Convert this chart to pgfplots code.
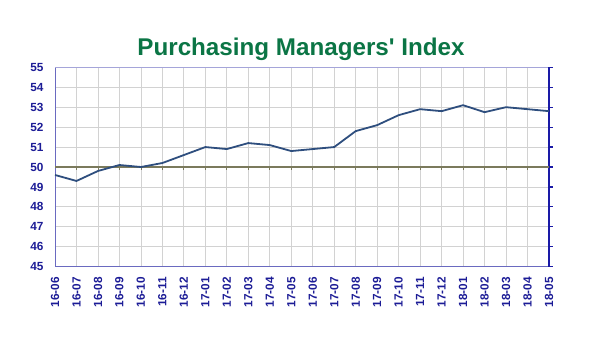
\documentclass[border=0pt]{standalone}
\usepackage{fontspec}
\setmainfont{Liberation Sans}
\usepackage{pgfplots}
\pgfplotsset{compat=1.18}
\definecolor{titlegreen}{HTML}{0B7545}
\definecolor{lblblue}{HTML}{1C1C96}
\definecolor{axblue}{HTML}{1A1AA6}
\definecolor{thinblue}{HTML}{6A6AC0}
\definecolor{pmiline}{HTML}{2E4E7E}
\definecolor{fifty}{HTML}{7B7A5C}
\definecolor{gridgray}{HTML}{D2D2D2}
\begin{document}
\begin{tikzpicture}[x=1pt,y=1pt]
\useasboundingbox (0,0) rectangle (600,360);
\node[font=\fontsize{24.2}{26}\selectfont\bfseries, text=titlegreen] at (301,311) {Purchasing Managers\textquotesingle{} Index};
\begin{axis}[
  at={(55pt,93.3pt)}, anchor=south west,
  width=494pt, height=199.4pt, scale only axis,
  xmin=0, xmax=23, ymin=45, ymax=55,
  ytick={45,46,...,55},
  xtick={0,...,23},
  xticklabels={16-06,16-07,16-08,16-09,16-10,16-11,16-12,17-01,17-02,17-03,17-04,17-05,17-06,17-07,17-08,17-09,17-10,17-11,17-12,18-01,18-02,18-03,18-04,18-05},
  x tick label style={rotate=90, anchor=east, font=\fontsize{11.8}{12}\selectfont\bfseries, text=lblblue},
  y tick label style={font=\fontsize{11.8}{12}\selectfont\bfseries, text=lblblue},
  /pgf/number format/assume math mode=true,
  xtick style={draw=none}, ytick style={draw=none},
  major tick length=0pt,
  xticklabel shift=7pt,
  yticklabel shift=8pt,
  grid=major,
  grid style={gridgray, line width=0.8pt},
  axis line style={draw=none},
  clip=false,
]
% frame lines
\addplot[thinblue, line width=0.8pt, mark=none] coordinates {(0,45) (0,55)};
\addplot[thinblue!60, line width=0.6pt, mark=none] coordinates {(0,55) (23,55)};
\addplot[thinblue, line width=0.8pt, mark=none] coordinates {(0,45) (23,45)};
\addplot[axblue, line width=1.5pt, mark=none] coordinates {(23,45) (23,55)};
% right ticks
\addplot[draw=none, mark=none,
  error bars/x dir=plus, error bars/x fixed=0.18,
  error bars/error mark=none,
  error bars/error bar style={axblue, line width=1.2pt}]
  coordinates {(23,45) (23,46) (23,47) (23,48) (23,49) (23,50) (23,51) (23,52) (23,53) (23,54) (23,55)};
% 50 line
\addplot[fifty, line width=1.2pt, mark=none] coordinates {(0,50) (23,50)};
\addplot[draw=none, mark=none,
  error bars/y dir=minus, error bars/y fixed=0.15,
  error bars/error mark=none,
  error bars/error bar style={fifty, line width=0.8pt}]
  coordinates {(1,50) (2,50) (3,50) (4,50) (5,50) (6,50) (7,50) (8,50) (9,50) (10,50) (11,50) (12,50) (13,50) (14,50) (15,50) (16,50) (17,50) (18,50) (19,50) (20,50) (21,50) (22,50)};
% PMI
\addplot[pmiline, line width=1.8pt, line join=round, mark=none] coordinates {
(0,49.6) (1,49.3) (2,49.8) (3,50.1) (4,50.0) (5,50.2) (6,50.6) (7,51.0)
(8,50.9) (9,51.2) (10,51.1) (11,50.8) (12,50.9) (13,51.0) (14,51.8) (15,52.1)
(16,52.6) (17,52.9) (18,52.8) (19,53.1) (20,52.75) (21,53.0) (22,52.9) (23,52.8)
};
\end{axis}
\end{tikzpicture}
\end{document}
